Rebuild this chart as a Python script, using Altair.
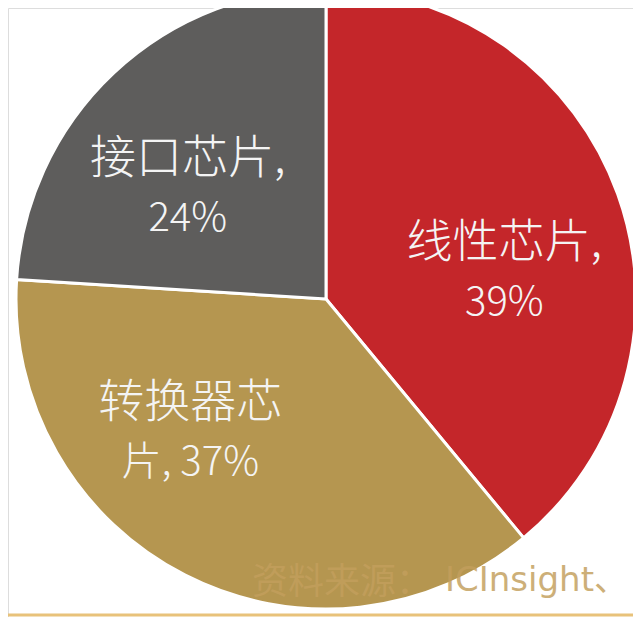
import altair as alt
import pandas as pd

categories = ["线性芯片", "转换器芯片", "接口芯片"]
shares = [39, 37, 24]
line1 = ["线性芯片,", "转换器芯", "接口芯片,"]
line2 = ["39%", "片, 37%", "24%"]
colors = ["#C4262A", "#B59650", "#5E5D5C"]
note_cn = ["资料来源："]
note_en = ["ICInsight、"]

df = pd.DataFrame({
    "category": categories,
    "share": shares,
    "idx": list(range(len(categories))),
    "line1": line1,
    "line2": line2,
})

CX, CY, R = 318, 291, 310
FONT = "Noto Sans CJK SC"
theta_scale = alt.Scale(domain=[0, 100])
color_scale = alt.Scale(domain=categories, range=colors)

base = alt.Chart(df).encode(
    x=alt.value(CX),
    y=alt.value(CY),
)

arcs = base.mark_arc(outerRadius=R, stroke="white", strokeWidth=3).encode(
    theta=alt.Theta("share:Q", stack=True, scale=theta_scale),
    order=alt.Order("idx:Q"),
    color=alt.Color("category:N", scale=color_scale, legend=None),
)

mids = base.transform_window(
    cum="sum(share)", sort=[alt.SortField("idx")]
).transform_calculate(mid="datum.cum - datum.share / 2")

# per-slice label adjustments (radius, dx, dy)
label_pos = {
    "线性芯片": (180, 9, 5),
    "转换器芯片": (180, -54, -56),
    "接口芯片": (180, -15, -9),
}

layers = [arcs]
for cat, (rad, dx, dy) in label_pos.items():
    for field, off, fs in (("line1", 0, 46), ("line2", 60, 40)):
        layers.append(
            mids.transform_filter(alt.datum.category == cat)
            .mark_text(
                radius=rad, dx=dx, dy=dy + off, font=FONT, fontSize=fs,
                fontWeight=300, color="#F4F4F4", align="center",
                baseline="middle",
            )
            .encode(
                theta=alt.Theta("mid:Q", stack=None, scale=theta_scale),
                text=alt.Text(f"{field}:N"),
            )
        )

note1 = alt.Chart(pd.DataFrame({"t": note_cn})).mark_text(
    font=FONT, fontSize=36, color="#C39F5D", opacity=0.83,
    align="left", baseline="alphabetic",
).encode(x=alt.value(244), y=alt.value(586), text="t:N")

note2 = alt.Chart(pd.DataFrame({"t": note_en})).mark_text(
    font="DejaVu Sans, Noto Sans CJK SC", fontSize=34, color="#C39F5D",
    opacity=0.83, align="left", baseline="alphabetic",
).encode(x=alt.value(437), y=alt.value(583), text="t:N")

rule = alt.Chart(pd.DataFrame({"t": note_en})).mark_rule(
    color="#E8C27A", strokeWidth=3
).encode(x=alt.value(0), x2=alt.value(625), y=alt.value(607))

chart = alt.layer(*layers, note1, note2, rule).properties(
    width=625, height=609, padding=0,
    autosize=alt.AutoSizeParams(type="none"),
).configure_view(stroke=None, strokeWidth=0).configure(background="white")

chart.save("out.html", embed_options={"renderer": "svg", "actions": False})
